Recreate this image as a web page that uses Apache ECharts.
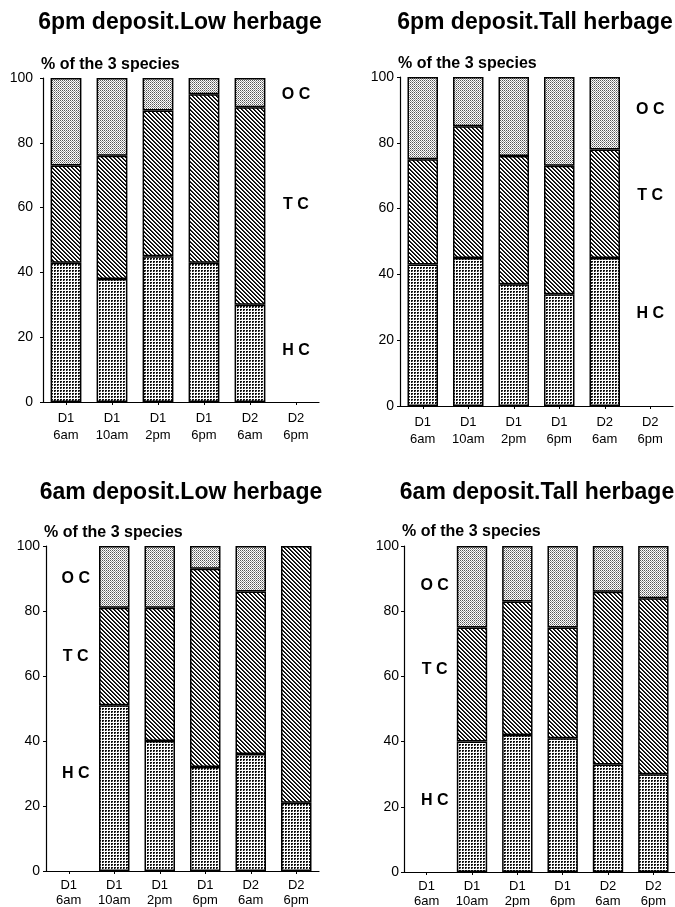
<!DOCTYPE html>
<html>
<head>
<meta charset="utf-8">
<script src="https://cdn.jsdelivr.net/npm/echarts@6/dist/echarts.min.js"></script>
<style>
html,body{margin:0;padding:0;background:#fff;}
#chart{width:675px;height:907px;}
</style>
</head>
<body>
<div id="chart"></div>
<script>
// ---- data ----
const categories = ['D1\n6am', 'D1\n10am', 'D1\n2pm', 'D1\n6pm', 'D2\n6am', 'D2\n6pm'];
const panelTitles = ['6pm deposit.Low herbage', '6pm deposit.Tall herbage', '6am deposit.Low herbage', '6am deposit.Tall herbage'];
const yAxisName = '% of the 3 species';
const speciesNames = ['HC', 'TC', 'OC'];
const speciesLabels = ['H C', 'T C', 'O C'];

const pmLowHC  = [43, 38, 45, 43, 30, null];
const pmLowTC  = [30, 38, 45, 52, 61, null];
const pmLowOC  = [27, 24, 10, 5, 9, null];

const pmTallHC = [43, 45, 37, 34, 45, null];
const pmTallTC = [32, 40, 39, 39, 33, null];
const pmTallOC = [25, 15, 24, 27, 22, null];

const amLowHC  = [null, 51, 40, 32, 36, 21];
const amLowTC  = [null, 30, 41, 61, 50, 79];
const amLowOC  = [null, 19, 19, 7, 14, null];

const amTallHC = [null, 40, 42, 41, 33, 30];
const amTallTC = [null, 35, 41, 34, 53, 54];
const amTallOC = [null, 25, 17, 25, 14, 16];

// ---- patterns ----
function makeTile(size, draw) {
  const c = document.createElement('canvas');
  c.width = size; c.height = size;
  const ctx = c.getContext('2d');
  ctx.fillStyle = '#fff';
  ctx.fillRect(0, 0, size, size);
  draw(ctx);
  return c;
}
const hcTile = makeTile(3, ctx => {
  ctx.fillStyle = '#111';
  ctx.fillRect(0, 0, 2, 2);
  ctx.fillStyle = '#888';
  ctx.fillRect(1, 1, 1, 1);
});
const tcTile = makeTile(4, ctx => {
  for (let i = 0; i < 4; i++) {
    ctx.fillStyle = '#000';
    ctx.fillRect(i, i, 1, 1);
    ctx.fillStyle = '#333';
    ctx.fillRect((i + 1) % 4, i, 1, 1);
  }
});
const ocTile = makeTile(2, ctx => {
  ctx.fillStyle = '#555';
  ctx.fillRect(0, 0, 1, 1);
  ctx.fillStyle = '#999';
  ctx.fillRect(1, 1, 1, 1);
});
const patterns = [
  { image: hcTile, repeat: 'repeat' },
  { image: tcTile, repeat: 'repeat' },
  { image: ocTile, repeat: 'repeat' }
];

// ---- layout ----
const grids = [
  { left: 43, top: 78, width: 276, height: 324 },
  { left: 400, top: 77, width: 273, height: 329 },
  { left: 46, top: 546, width: 273, height: 325 },
  { left: 404, top: 546, width: 272, height: 326 }
];
const titleCenters = [[180, 11], [535, 11], [181, 481], [537, 481]];
const labelMargins = [10, 6, 6, 5];
const xLabelLayout = [[8, 17], [8, 17], [7, 15], [7, 15]];
const panelData = [
  [pmLowHC, pmLowTC, pmLowOC],
  [pmTallHC, pmTallTC, pmTallOC],
  [amLowHC, amLowTC, amLowOC],
  [amTallHC, amTallTC, amTallOC]
];
// annotation positions (category index, value) for HC/TC/OC labels
const annot = [
  { cat: 5, vals: [16, 61, 95], off: [0, 0] },
  { cat: 5, vals: [28, 64, 90], off: [0, 0] },
  { cat: 0, vals: [30, 66, 90], off: [7, 0] },
  { cat: 0, vals: [22, 62, 88], off: [8, 0] }
];

const FONT = 'Liberation Sans, Arial, Helvetica, sans-serif';

const option = {
  backgroundColor: '#fff',
  animation: false,
  textStyle: { fontFamily: FONT, color: '#000' },
  title: panelTitles.map((t, i) => ({
    text: t,
    left: titleCenters[i][0],
    top: titleCenters[i][1],
    textAlign: 'center',
    padding: 0,
    textStyle: { fontFamily: FONT, fontSize: 23, fontWeight: 'bold', color: '#000' }
  })),
  grid: grids.map(g => Object.assign({ containLabel: false, outerBoundsMode: 'none' }, g)),
  xAxis: grids.map((g, i) => ({
    type: 'category',
    gridIndex: i,
    data: categories,
    axisLine: { lineStyle: { color: '#000', width: 1.2 } },
    axisTick: { show: true, alignWithLabel: true, length: 3, lineStyle: { color: '#000' } },
    axisLabel: { color: '#000', fontFamily: FONT, fontSize: 13, lineHeight: xLabelLayout[i][1], margin: xLabelLayout[i][0], interval: 0 },
    splitLine: { show: false }
  })),
  yAxis: grids.map((g, i) => ({
    type: 'value',
    gridIndex: i,
    min: 0, max: 100, interval: 20,
    name: yAxisName,
    nameLocation: 'end',
    nameGap: 5,
    nameTextStyle: { fontFamily: FONT, fontSize: 16, fontWeight: 'bold', color: '#000', align: 'left', padding: [0, 0, 0, -2] },
    axisLine: { show: true, lineStyle: { color: '#000', width: 1.2 } },
    axisTick: { show: true, length: 3, lineStyle: { color: '#000' } },
    axisLabel: { color: '#000', fontFamily: FONT, fontSize: 14, margin: labelMargins[i] },
    splitLine: { show: false }
  })),
  series: []
};

panelData.forEach((arrs, p) => {
  arrs.forEach((vals, s) => {
    const ser = {
      type: 'bar',
      name: speciesNames[s] + p,
      xAxisIndex: p,
      yAxisIndex: p,
      stack: 'panel' + p,
      data: vals,
      barCategoryGap: '33%',
      itemStyle: { color: patterns[s], borderColor: '#000', borderWidth: 1.5 },
      emphasis: { disabled: true }
    };
    if (s === 0) {
      ser.markPoint = {
        symbol: 'rect',
        symbolSize: 1,
        itemStyle: { color: 'rgba(0,0,0,0)' },
        label: {
          show: true, position: 'inside', formatter: '{b}',
          fontFamily: FONT, fontSize: 16, fontWeight: 'bold', color: '#000',
          offset: annot[p].off
        },
        emphasis: { disabled: true },
        data: speciesLabels.map((lab, k) => ({ name: lab, coord: [annot[p].cat, annot[p].vals[k]] }))
      };
    }
    option.series.push(ser);
  });
});

const chart = echarts.init(document.getElementById('chart'), null, { renderer: 'canvas' });
chart.setOption(option);
</script>
</body>
</html>
